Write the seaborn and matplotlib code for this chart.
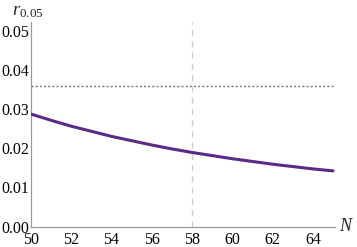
import numpy as np
import pandas as pd
import matplotlib
matplotlib.use("Agg")
import matplotlib.pyplot as plt
import seaborn as sns
from matplotlib.ticker import MultipleLocator

N_vals = [50, 51, 52, 53, 54, 55, 56, 57, 58, 59, 60, 61, 62, 63, 64, 65]
r_vals = [0.0287, 0.0271, 0.0256, 0.0243, 0.0230, 0.0219, 0.0208, 0.0198,
          0.0189, 0.0181, 0.0173, 0.0166, 0.0159, 0.0153, 0.0147, 0.0142]
threshold = 0.0358
N_marker = 58
x_ticks = [50, 52, 54, 56, 58, 60, 62, 64]
y_ticks = [0.00, 0.01, 0.02, 0.03, 0.04, 0.05]

sns.set_style("white")
plt.rcParams['font.family'] = ['Liberation Serif', 'DejaVu Serif']
plt.rcParams['mathtext.fontset'] = 'custom'
plt.rcParams['mathtext.it'] = 'Liberation Serif:italic'
plt.rcParams['mathtext.rm'] = 'Liberation Serif'

df = pd.DataFrame({"N": N_vals, "r": r_vals})

fig = plt.figure(figsize=(3.57, 2.47), dpi=100)
ax = fig.add_axes([31/357, 1 - 226.5/247, (335 - 31)/357, (226.5 - 22)/247])

ax.axvline(N_marker, color="#cccccc", lw=0.9, ls=(0, (5, 4)), zorder=1)
ax.plot([50, 65], [threshold, threshold], color="#777777", lw=1.0, ls=(0, (1.5, 1.5)), zorder=2)
sns.lineplot(data=df, x="N", y="r", ax=ax, color="#5b2a86", lw=2.2, zorder=3)

ax.set_xlim(50, 65.1)
ax.set_ylim(0, 0.0522)
ax.set_xticks(x_ticks)
ax.set_yticks(y_ticks)
ax.set_xticklabels([str(v) for v in x_ticks])
ax.set_yticklabels([f"{v:.2f}" for v in y_ticks])
ax.xaxis.set_minor_locator(MultipleLocator(0.5))
ax.yaxis.set_minor_locator(MultipleLocator(0.002))
ax.tick_params(which="major", direction="in", length=4, width=0.8, color="#888888",
               labelsize=11.5, labelcolor="black")
ax.tick_params(axis="y", which="major", pad=1.5)
ax.tick_params(axis="x", which="major", pad=4)
ax.tick_params(which="minor", direction="in", length=2.2, width=0.6, color="#888888")
for s in ["top", "right"]:
    ax.spines[s].set_visible(False)
for s in ["left", "bottom"]:
    ax.spines[s].set_color("#999999")
    ax.spines[s].set_linewidth(0.9)
ax.set_xlabel("")
ax.set_ylabel("")

fig.text(346/357, 1 - 226/247, r"$N$", fontsize=13, ha="center", va="center")
fig.text(12/357, 1 - 11/247, r"$r_{\mathrm{0.05}}$", fontsize=13.5, ha="left", va="center")

fig.savefig("out.png", dpi=100)
